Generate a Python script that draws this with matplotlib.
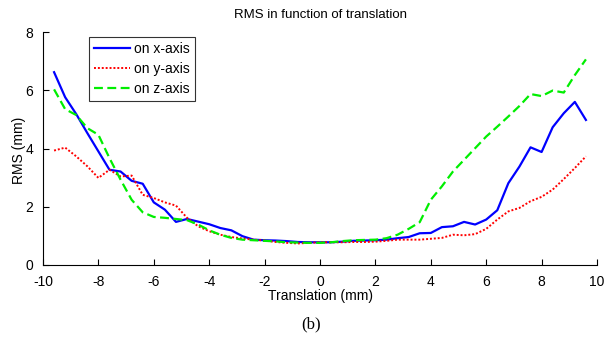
import numpy as np
import matplotlib
matplotlib.use("Agg")
import matplotlib.pyplot as plt

plt.rcParams['font.family'] = ['Liberation Sans', 'DejaVu Sans']
plt.rcParams['axes.unicode_minus'] = False

translation = [-9.6, -9.2, -8.8, -8.4, -8.0, -7.6, -7.2, -6.8, -6.4, -6.0, -5.6, -5.2, -4.8,
               -4.4, -4.0, -3.6, -3.2, -2.8, -2.4, -2.0, -1.6, -1.2, -0.8, -0.4, 0.0,
               0.4, 0.8, 1.2, 1.6, 2.0, 2.4, 2.8, 3.2, 3.6, 4.0, 4.4, 4.8, 5.2, 5.6,
               6.0, 6.4, 6.8, 7.2, 7.6, 8.0, 8.4, 8.8, 9.2, 9.6]

rms_x = [6.62, 5.76, 5.18, 4.53, 3.90, 3.27, 3.21, 2.89, 2.79, 2.15, 1.90, 1.48, 1.58,
         1.49, 1.40, 1.27, 1.19, 0.99, 0.87, 0.85, 0.84, 0.82, 0.79, 0.78, 0.78,
         0.78, 0.80, 0.83, 0.84, 0.85, 0.87, 0.92, 0.96, 1.09, 1.10, 1.30, 1.33, 1.48, 1.39,
         1.56, 1.88, 2.81, 3.38, 4.04, 3.88, 4.73, 5.21, 5.60, 4.98]

rms_y = [3.93, 4.03, 3.73, 3.39, 2.99, 3.27, 3.04, 3.07, 2.41, 2.30, 2.15, 2.04, 1.62,
         1.33, 1.16, 1.04, 0.96, 0.91, 0.87, 0.84, 0.79, 0.76, 0.74, 0.76, 0.78,
         0.78, 0.78, 0.79, 0.79, 0.80, 0.83, 0.87, 0.87, 0.87, 0.90, 0.93, 1.04, 1.02, 1.06,
         1.24, 1.56, 1.84, 1.96, 2.19, 2.34, 2.59, 2.95, 3.33, 3.73]

rms_z = [6.03, 5.35, 5.15, 4.70, 4.47, 3.67, 2.93, 2.24, 1.81, 1.65, 1.62, 1.58, 1.54,
         1.39, 1.19, 1.04, 0.93, 0.87, 0.85, 0.83, 0.81, 0.78, 0.77, 0.76, 0.76,
         0.78, 0.82, 0.85, 0.86, 0.87, 0.92, 1.04, 1.24, 1.47, 2.24, 2.70, 3.21, 3.61, 4.01,
         4.41, 4.75, 5.10, 5.46, 5.87, 5.80, 5.99, 5.92, 6.52, 7.06]

xticks = [-10, -8, -6, -4, -2, 0, 2, 4, 6, 8, 10]
yticks = [0, 2, 4, 6, 8]

W, H = 611, 341
L, R, T, B = 43, 597, 32, 265
fig = plt.figure(figsize=(W / 100, H / 100), dpi=100)
ax = fig.add_axes([L / W, 1 - B / H, (R - L) / W, (B - T) / H])

ax.plot(translation, rms_x, color='#0000ff', lw=1.6, ls='-', label='on x-axis')
ax.plot(translation, rms_y, color='#ff0000', lw=1.4, ls=(0, (1, 1)), label='on y-axis')
ax.plot(translation, rms_z, color='#00ee00', lw=1.6, ls=(0, (4, 2)), label='on z-axis')

ax.set_xlim(-10, 10)
ax.set_ylim(0, 8)
ax.set_xticks(xticks)
ax.set_yticks(yticks)
ax.spines['top'].set_visible(False)
ax.spines['right'].set_visible(False)
ax.spines['left'].set_linewidth(0.8)
ax.spines['bottom'].set_linewidth(0.8)
ax.tick_params(direction='in', length=4, width=0.8, labelsize=10)
ax.tick_params(axis='x', pad=7)
ax.tick_params(axis='y', pad=7)

ax.set_title('RMS in function of translation', fontsize=9.5, pad=10)
ax.set_xlabel('Translation (mm)', fontsize=10, labelpad=0)
ax.set_ylabel('RMS (mm)', fontsize=10)
ax.yaxis.set_label_coords((26 - L) / (R - L), (B - 150) / (B - T))

leg = ax.legend(loc='upper left', bbox_to_anchor=((89 - L) / (R - L), 1 - (37 - T) / (B - T)),
                fontsize=10, frameon=True, fancybox=False, edgecolor='black',
                handlelength=2.6, handletextpad=0.3, borderpad=0.35, labelspacing=0.45,
                borderaxespad=0)
leg.get_frame().set_linewidth(0.8)

fig.text(311 / W, 1 - 324 / H, '(b)', ha='center', va='center', fontsize=12,
         family=['Liberation Serif', 'DejaVu Serif'])

fig.savefig('out.png', dpi=100)
